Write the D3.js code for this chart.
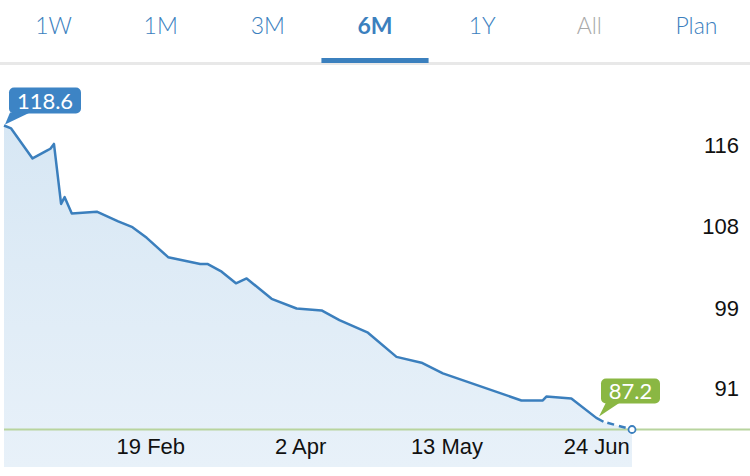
<!DOCTYPE html>
<html>
<head>
<meta charset="utf-8">
<script src="https://cdn.jsdelivr.net/npm/d3@7"></script>
<style>
  body { margin: 0; background: #fff; }
  svg { display: block; font-family: Lato, "Open Sans", sans-serif; }
  .tab { font-size: 23px; font-weight: 300; fill: #3b80be; }
  .tab.off { fill: #a9a9a9; }
  .tab.on { font-weight: 700; }
  .axis text { font-size: 22px; fill: #111; }
  .axis path { display: none; }
  .bubble text { font-size: 22px; fill: #fff; }
</style>
</head>
<body>
<svg id="chart" width="750" height="476"></svg>
<script>
// tabs across the top
const tabs = ["1W", "1M", "3M", "6M", "1Y", "All", "Plan"]
const activeTab = "6M"
const disabledTab = "All"

// series
const dates = ["2023-01-09", "2023-01-11", "2023-01-17", "2023-01-21", "2023-01-22", "2023-01-23",
               "2023-01-25", "2023-01-26", "2023-01-28", "2023-02-04", "2023-02-10", "2023-02-14",
               "2023-02-18", "2023-02-24", "2023-03-05", "2023-03-07", "2023-03-11", "2023-03-15",
               "2023-03-18", "2023-03-25", "2023-04-01", "2023-04-08", "2023-04-13", "2023-04-21",
               "2023-04-29", "2023-05-06", "2023-05-12", "2023-06-03", "2023-06-09", "2023-06-10",
               "2023-06-17", "2023-06-24", "2023-06-26", "2023-07-04"]
const values = [118.6, 118.3, 115.2, 116.0, 116.2, 116.7,
                110.5, 111.2, 109.5, 109.7, 108.7, 108.1,
                107.0, 105.0, 104.3, 104.3, 103.5, 102.3,
                102.8, 100.7, 99.7, 99.5, 98.5, 97.2,
                94.7, 94.1, 93.0, 90.2, 90.2, 90.6,
                90.4, 88.4, 88.0, 87.2]

// axis ticks
const xTicks = ["2023-02-19", "2023-04-02", "2023-05-13", "2023-06-24"]
const yTicks = [90.8, 99.1, 107.5, 115.9]

const parse = d3.timeParse("%Y-%m-%d")
const data = dates.map((d, i) => ({date: parse(d), value: values[i]}))

const svg = d3.select("#chart")

// tab bar
const tabX = d3.scaleBand().domain(tabs).range([0, 750])
svg.append("rect").attr("x", 0).attr("y", 62).attr("width", 750).attr("height", 3).attr("fill", "#e8e8e8")
svg.append("rect")
    .attr("x", tabX(activeTab)).attr("y", 58)
    .attr("width", tabX.bandwidth()).attr("height", 5)
    .attr("fill", "#3b80be")
svg.selectAll(".tab")
    .data(tabs)
    .enter()
    .append("text")
    .attr("class", d => "tab" + (d === activeTab ? " on" : "") + (d === disabledTab ? " off" : ""))
    .attr("x", d => tabX(d) + tabX.bandwidth() / 2)
    .attr("y", 34)
    .attr("text-anchor", "middle")
    .text(d => d)

// scales
const x = d3.scaleTime().domain(d3.extent(data, d => d.date)).range([4, 632])
const y = d3.scaleLinear().domain([87.2, 118.6]).range([429.5, 125.5])
const bottom = 467

// area gradient
const grad = svg.append("defs").append("linearGradient")
    .attr("id", "fill").attr("gradientUnits", "userSpaceOnUse")
    .attr("x1", 0).attr("y1", 125).attr("x2", 0).attr("y2", bottom)
grad.append("stop").attr("offset", "0%").attr("stop-color", "#d7e7f4")
grad.append("stop").attr("offset", "100%").attr("stop-color", "#e8f1f9")

const area = d3.area().x(d => x(d.date)).y0(bottom).y1(d => y(d.value))
svg.append("path").datum(data).attr("d", area).attr("fill", "url(#fill)")

// baseline at the latest value
const last = data[data.length - 1]
svg.append("line")
    .attr("x1", 4).attr("x2", 750)
    .attr("y1", y(last.value)).attr("y2", y(last.value))
    .attr("stroke", "#b8d49e").attr("stroke-width", 2)

// line: solid, last step dashed
const line = d3.line().x(d => x(d.date)).y(d => y(d.value))
svg.append("path").datum(data.slice(0, -1)).attr("d", line)
    .attr("fill", "none").attr("stroke", "#3b7fbd").attr("stroke-width", 2.5)
    .attr("stroke-linejoin", "round")
svg.append("path").datum(data.slice(-2)).attr("d", line)
    .attr("fill", "none").attr("stroke", "#3b7fbd").attr("stroke-width", 2.5)
    .attr("stroke-dasharray", "7,5").attr("stroke-dashoffset", -4)
svg.append("circle")
    .attr("cx", x(last.date)).attr("cy", y(last.value)).attr("r", 3.5)
    .attr("fill", "#fff").attr("stroke", "#3b7fbd").attr("stroke-width", 1.8)

// axes
svg.append("g").attr("class", "axis")
    .attr("transform", `translate(0,454)`)
    .call(d3.axisBottom(x).tickValues(xTicks.map(parse)).tickFormat(d3.timeFormat("%-d %b")).tickSize(0))
    .selectAll("text").attr("y", 0).attr("dy", 0)

svg.append("g").attr("class", "axis")
    .attr("transform", `translate(739,1)`)
    .call(d3.axisRight(y).tickValues(yTicks).tickFormat(d3.format(".0f")).tickSize(0))
    .selectAll("text").attr("x", 0).attr("dy", 0).attr("text-anchor", "end")

// value bubbles
function bubble(px, py, bx, by, w, h, tail, color, label) {
    let g = svg.append("g").attr("class", "bubble")
    g.append("rect").attr("x", bx).attr("y", by).attr("width", w).attr("height", h)
        .attr("rx", 5).attr("fill", color)
    g.append("path")
        .attr("d", `M${tail[0]},${by + h - 1} L${px},${py} L${tail[1]},${by + h - 1} Z`)
        .attr("fill", color)
    g.append("text").attr("x", bx + w / 2).attr("y", by + h - 5)
        .attr("text-anchor", "middle").text(label)
}

const first = data[0]
const fx = x(first.date), fy = y(first.value)
bubble(fx + 1, fy - 1, fx + 5, fy - 38, 72, 26, [fx + 6, fx + 26], "#3d84c5", d3.format(".1f")(first.value))

const lx = x(last.date), ly = y(last.value)
bubble(lx - 33, ly - 13, lx - 31, ly - 51, 59, 25, [lx - 26, lx - 12], "#8ab743", d3.format(".1f")(last.value))
</script>
</body>
</html>
